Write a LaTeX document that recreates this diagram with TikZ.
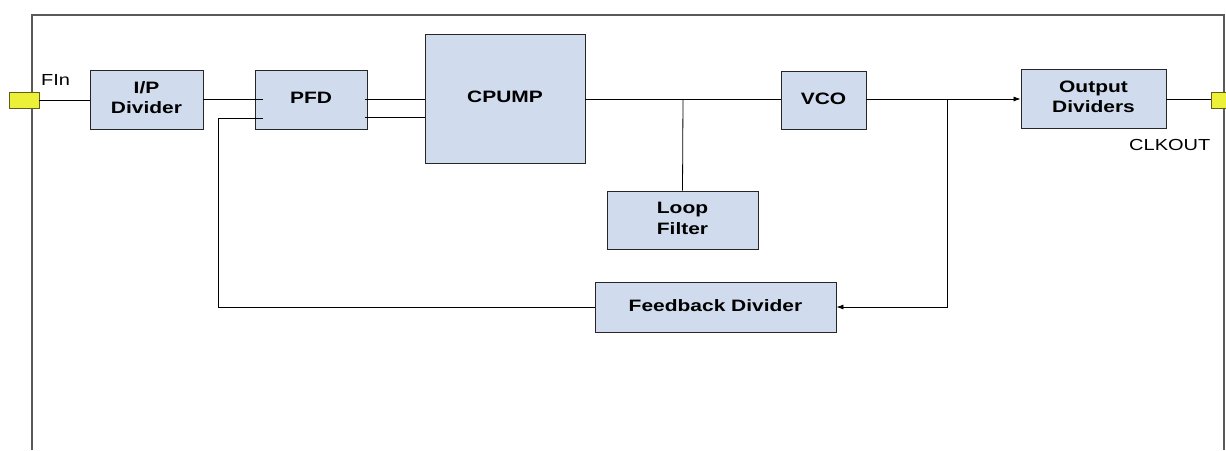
\documentclass[tikz,border=0pt]{standalone}
\usepackage{fontspec}
\setmainfont{Liberation Sans}
\usepackage{graphicx}
\usetikzlibrary{arrows.meta}

\definecolor{blockfill}{RGB}{208,220,237}
\definecolor{padfill}{RGB}{236,240,56}
\definecolor{padline}{RGB}{95,95,25}

\newcommand{\wide}[2][1.27]{\scalebox{#1}[1]{\begin{tabular}{@{}c@{}}#2\end{tabular}}}

\tikzset{
	block/.style={draw=black!85, fill=blockfill, line width=0.9pt, inner sep=0pt, font=\bfseries\fontsize{16.5}{20.5}\selectfont},
	pad/.style={draw=padline, fill=padfill, line width=0.8pt, minimum width=30pt, minimum height=16pt, inner sep=0pt},
	wire/.style={draw=black, line width=0.8pt},
	plain/.style={font=\fontsize{16}{19}\selectfont, inner sep=0pt},
	frame/.style={draw=black!65, line width=1.1pt}
}

\begin{document}
\begin{tikzpicture}[x=1pt, y=-1pt, >={Latex[length=7pt,width=5pt]}]
	\clip (0,0) rectangle (1226,450);
	% outer frame
	\draw[frame] (32,450) -- (32,15) -- (1224,15) -- (1224,450);
	% blocks
	\node[block, minimum width=113pt, minimum height=59pt] (ipdiv) at (146.5,99.5) {\wide{I/P\\Divider}};
	\node[block, minimum width=112pt, minimum height=59pt] (pfd) at (311,99.5) {\wide{PFD}};
	\node[block, minimum width=160pt, minimum height=129pt] (cpump) at (505,98.5) {\wide{CPUMP}};
	\node[block, minimum width=85pt, minimum height=58pt] (vco) at (823.5,100) {\wide{VCO}};
	\node[block, minimum width=151pt, minimum height=58pt] (loopf) at (682.5,220) {\wide{Loop\\Filter}};
	\node[block, minimum width=241pt, minimum height=50pt] (fbdiv) at (715.5,307) {\wide{Feedback Divider}};
	\node[block, minimum width=145pt, minimum height=59pt] (outdiv) at (1093.5,98.5) {\wide{Output\\Dividers}};
	% pins
	\node[pad] (fin) at (24,100) {};
	\node[pad] (clkout) at (1226,100) {};
	\node[plain, anchor=base west] (finlbl) at (41,86) {\wide[1.25]{FIn}};
	\node[plain, anchor=base west] (clklbl) at (1129,151) {\wide[1.25]{CLKOUT}};
	% junctions
	\coordinate (lfjoin) at (683,99);
	\coordinate (fbjoin) at (947,99);
	\coordinate (fbturn) at (218,307);
	\coordinate (fbin) at (218,118);
	% wires
	\draw[wire] (fin.east) -- (ipdiv.west |- fin.east);
	\draw[wire] (ipdiv.east |- 0,99) -- ([xshift=8pt]pfd.west |- 0,99);
	\draw[wire] ([xshift=-2pt]pfd.east |- 0,99) -- (cpump.west |- 0,99);
	\draw[wire] ([xshift=-2pt]pfd.east |- 0,117) -- (cpump.west |- 0,117);
	\draw[wire] (cpump.east |- 0,99) -- (vco.west |- 0,99);
	\draw[wire] (lfjoin) -- (loopf.north);
	\draw[wire, ->] (vco.east |- 0,99) -- (outdiv.west |- 0,99);
	\draw[wire, ->] (fbjoin) -- (fbjoin |- fbdiv.east) -- (fbdiv.east);
	\draw[wire] (fbdiv.west) -- (fbturn) -- (fbin) -- ([xshift=8pt]pfd.west |- fbin);
	\draw[wire] (outdiv.east |- 0,99) -- (clkout.west |- 0,99);
\end{tikzpicture}
\end{document}
